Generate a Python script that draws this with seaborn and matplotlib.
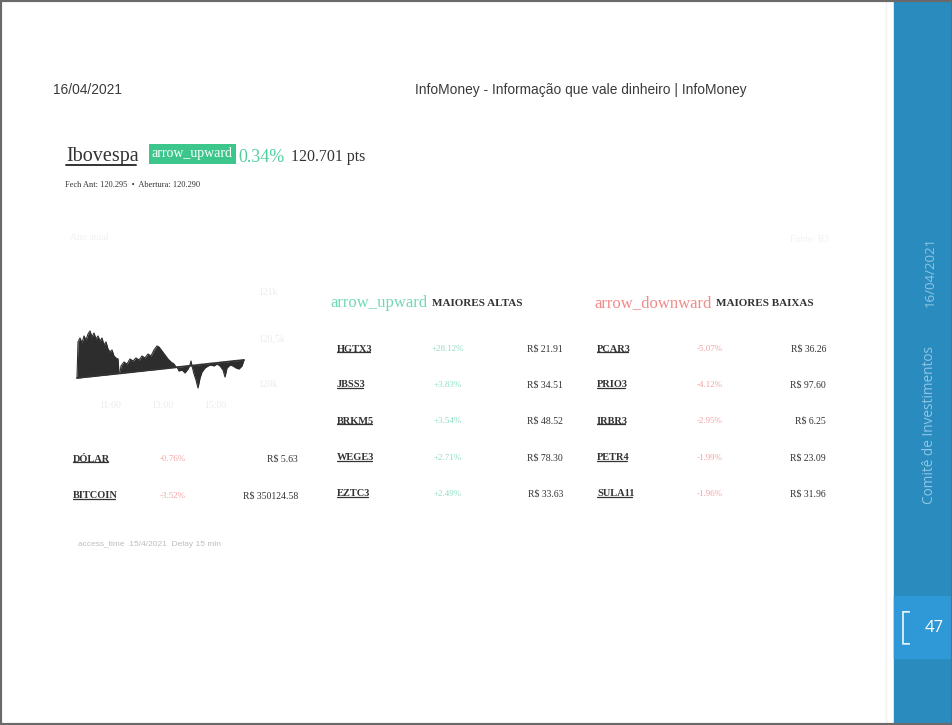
import numpy as np
import pandas as pd
import matplotlib
matplotlib.use("Agg")
import matplotlib.pyplot as plt
import matplotlib.font_manager as fm
import seaborn as sns
from matplotlib.patches import Rectangle
from matplotlib.lines import Line2D

# ---------------- data ----------------
seg1_t = [0, 1, 3, 5, 7, 9, 11, 13, 15, 17, 19, 21, 23, 25, 27, 29, 31, 33, 35, 37, 39, 41, 42]
seg1_price = [120065, 120457, 120500, 120446, 120522, 120478, 120543, 120576, 120511, 120554, 120489,
              120522, 120467, 120500, 120424, 120457, 120380, 120348, 120370, 120304, 120283, 120272, 120120]
seg1_base = [120065, 120066, 120068, 120071, 120074, 120076, 120078, 120080, 120083, 120085, 120087,
             120090, 120092, 120095, 120097, 120099, 120101, 120104, 120106, 120109, 120111, 120113, 120114]

seg2_t = [43, 44, 47, 50, 53, 56, 59, 62, 65, 68, 71, 74, 77, 80, 82, 85, 88, 91, 94, 97, 99]
seg2_price = [120120, 120196, 120239, 120217, 120272, 120250, 120283, 120261, 120304, 120283, 120326,
              120304, 120370, 120413, 120402, 120359, 120315, 120272, 120239, 120217, 120185]
seg2_base = [120115, 120116, 120120, 120124, 120127, 120130, 120135, 120138, 120141, 120145, 120149,
             120152, 120155, 120159, 120161, 120165, 120168, 120172, 120176, 120179, 120181]

seg3_t = [100, 102, 105, 108, 111, 113, 114, 115, 117, 119, 121, 123, 125, 128, 131, 134, 137, 140,
          143, 146, 148, 150, 153, 156, 159, 162, 165, 167]
seg3_price = [120185, 120141, 120152, 120120, 120163, 120206, 120250, 120196, 120109, 120043, 119957,
              120065, 120130, 120174, 120196, 120206, 120196, 120217, 120196, 120152, 120076, 120174,
              120206, 120196, 120174, 120163, 120196, 120261]
seg3_base = [120183, 120185, 120188, 120192, 120196, 120198, 120199, 120200, 120202, 120204, 120207,
             120210, 120212, 120215, 120219, 120223, 120226, 120229, 120233, 120237, 120239, 120241,
             120245, 120249, 120252, 120255, 120259, 120261]

ytick_vals = [120000, 120500, 121000]
ytick_labels = ["120k", "120,5k", "121k"]
xtick_vals = [33, 85, 138]
xtick_labels = ["11:00", "13:00", "15:00"]

index_name = "Ibovespa"
index_change = "0.34%"
index_points = "120.701 pts"
index_sub = "Fech Ant: 120.295  •  Abertura: 120.290"

altas_tickers = ["HGTX3", "JBSS3", "BRKM5", "WEGE3", "EZTC3"]
altas_pct = ["+28.12%", "+3.83%", "+3.54%", "+2.71%", "+2.49%"]
altas_price = ["R$ 21.91", "R$ 34.51", "R$ 48.52", "R$ 78.30", "R$ 33.63"]

baixas_tickers = ["PCAR3", "PRIO3", "IRBR3", "PETR4", "SULA11"]
baixas_pct = ["-5.07%", "-4.12%", "-2.95%", "-1.99%", "-1.96%"]
baixas_price = ["R$ 36.26", "R$ 97.60", "R$ 6.25", "R$ 23.09", "R$ 31.96"]

moedas_names = ["DÓLAR", "BITCOIN"]
moedas_pct = ["-0.76%", "-3.52%"]
moedas_price = ["R$ 5.63", "R$ 350124.58"]

# ---------------- style ----------------
sns.set_theme(style="white")
names = {f.name for f in fm.fontManager.ttflist}
SERIF = ["Liberation Serif", "DejaVu Serif"]
NARROW = ["Liberation Sans Narrow", "DejaVu Sans"] if "Liberation Sans Narrow" in names else ["Liberation Sans", "DejaVu Sans"]
NARROW_SIZE = 11 if "Liberation Sans Narrow" in names else 9.9
SIDE = ["Open Sans", "DejaVu Sans"]
plt.rcParams["font.family"] = SERIF

W, H = 953, 725
fig = plt.figure(figsize=(W / 100, H / 100), dpi=100)
fig.patch.set_facecolor("white")


def fx(x):
    return x / W


def fy(y):
    return 1 - y / H


def txt(x, y, s, **kw):
    kw.setdefault("va", "center")
    return fig.text(fx(x), fy(y), s, **kw)


# ---------------- sidebar & frame ----------------
fig.add_artist(Rectangle((fx(894), 0), fx(953) - fx(894), 1, transform=fig.transFigure,
                         color="#2a8bbe", zorder=0))
fig.add_artist(Rectangle((fx(894), fy(658)), fx(953) - fx(894), (658 - 596) / H,
                         transform=fig.transFigure, color="#2f98d6", zorder=1))
fig.add_artist(Line2D([fx(886), fx(886)], [0, 1], transform=fig.transFigure, color="#f2f2f2", lw=1))
fig.add_artist(Rectangle((0, 0), 1, 1, transform=fig.transFigure, fill=False,
                         ec="#6a6a6a", lw=3, zorder=5))
txt(930, 425, "Comitê de Investimentos", rotation=90, ha="center", family=SIDE,
    fontsize=9.8, color="#8fc6e4", zorder=3)
txt(930, 272, "16/04/2021", rotation=90, ha="center", family=SIDE,
    fontsize=9.5, color="#8fc6e4", zorder=3)
txt(905, 628, "[", ha="center", family=SIDE, fontsize=27, color="#e8f4fb",
    fontweight="light", zorder=3)
txt(934, 628, "47", ha="center", family=SIDE, fontsize=12, color="white", zorder=3)

# ---------------- header ----------------
txt(53, 90, "16/04/2021", ha="left", family=NARROW, fontsize=NARROW_SIZE, color="#3a3a3a")
txt(415, 90, "InfoMoney - Informação que vale dinheiro | InfoMoney", ha="left",
    family=NARROW, fontsize=NARROW_SIZE, color="#3a3a3a")

underline_list = []
t_ibov = txt(66, 157, index_name, ha="left", fontsize=14.5, color="#333333")
underline_list.append((t_ibov, "#333333", 1.4))
txt(152, 154, "arrow_upward", ha="left", fontsize=10, color="white",
    bbox=dict(boxstyle="square,pad=0.22", fc="#3dc68b", ec="none"))
txt(238, 157, index_change, ha="left", fontsize=13, color="#52cf9d")
txt(291, 157, index_points, ha="left", fontsize=11.5, color="#333333")
txt(65, 185, index_sub, ha="left", fontsize=6, color="#333333")

txt(70, 238, "Ano atual", ha="left", fontsize=7, color="#f1f1f1")
txt(790, 240, "Fonte: B3", ha="left", fontsize=7, color="#f1f1f1")

# ---------------- sparkline ----------------
frames = []
for k, (t, p, b) in enumerate([(seg1_t, seg1_price, seg1_base),
                               (seg2_t, seg2_price, seg2_base),
                               (seg3_t, seg3_price, seg3_base)]):
    frames.append(pd.DataFrame({"t": t, "price": p, "base": b, "seg": k}))
df = pd.concat(frames, ignore_index=True)

x0, x1, ytop, ybot = 70, 250, 280, 400
ax = fig.add_axes([fx(x0), fy(ybot), fx(x1) - fx(x0), (ybot - ytop) / H])
for k, g in df.groupby("seg"):
    ax.fill_between(g["t"], g["price"], g["base"], color="#2d2d2d", lw=0)
sns.lineplot(data=df, x="t", y="price", units="seg", estimator=None, color="#2d2d2d",
             lw=0.8, ax=ax, legend=False)
sns.lineplot(data=df, x="t", y="base", units="seg", estimator=None, color="#333333",
             lw=1.3, ax=ax, legend=False)
ax.set_xlim(-7, 173)
ax.set_ylim(119826, 121130)
for s in ax.spines.values():
    s.set_visible(False)
ax.set_xlabel("")
ax.set_ylabel("")
ax.yaxis.tick_right()
ax.set_yticks(ytick_vals)
ax.set_yticklabels(ytick_labels)
ax.set_xticks(xtick_vals)
ax.set_xticklabels(xtick_labels)
ax.tick_params(axis="both", length=0, labelsize=7, labelcolor="#ececec")
ax.tick_params(axis="y", pad=6)
ax.tick_params(axis="x", pad=1)
ax.patch.set_alpha(0)

# ---------------- tables ----------------
GREEN_H = "#72d8b3"
GREEN_P = "#8fdfc2"
RED_H = "#f28a8a"
RED_P = "#f4a3a3"
DARK = "#333333"

txt(330, 303, "arrow_upward", ha="left", fontsize=12, color=GREEN_H)
txt(432, 303, "MAIORES ALTAS", ha="left", fontsize=8, fontweight="bold", color=DARK)
txt(594, 303, "arrow_downward", ha="left", fontsize=12, color=RED_H)
txt(716, 303, "MAIORES BAIXAS", ha="left", fontsize=8, fontweight="bold", color=DARK)

rows_y = [349, 385, 421, 458, 494]
for i, yy in enumerate(rows_y):
    t1 = txt(337, yy, altas_tickers[i], ha="left", fontsize=7.5, fontweight="bold", color=DARK)
    underline_list.append((t1, DARK, 0.9))
    txt(448, yy, altas_pct[i], ha="center", fontsize=6.5, color=GREEN_P)
    txt(563, yy, altas_price[i], ha="right", fontsize=7, color=DARK)
    t2 = txt(597, yy, baixas_tickers[i], ha="left", fontsize=7.5, fontweight="bold", color=DARK)
    underline_list.append((t2, DARK, 0.9))
    txt(710, yy, baixas_pct[i], ha="center", fontsize=6.5, color=RED_P)
    txt(826, yy, baixas_price[i], ha="right", fontsize=7, color=DARK)

for i, yy in enumerate([459, 496]):
    t3 = txt(73, yy, moedas_names[i], ha="left", fontsize=7.5, fontweight="bold", color=DARK)
    underline_list.append((t3, DARK, 0.9))
    txt(173, yy, moedas_pct[i], ha="center", fontsize=6.5, color=RED_P)
    txt(298, yy, moedas_price[i], ha="right", fontsize=7, color=DARK)

txt(78, 544, "access_time  15/4/2021  Delay 15 min", ha="left", fontsize=6, color="#bdbdbd",
    family=["Liberation Sans", "DejaVu Sans"])

# underlines
fig.canvas.draw()
renderer = fig.canvas.get_renderer()
for t, col, lw in underline_list:
    bb = t.get_window_extent(renderer)
    yline = bb.y0 + 1.5
    fig.add_artist(Line2D([bb.x0 / W, (bb.x1 - 2.5) / W], [yline / H, yline / H],
                          transform=fig.transFigure, color=col, lw=lw))

fig.savefig("out.png", dpi=100)
